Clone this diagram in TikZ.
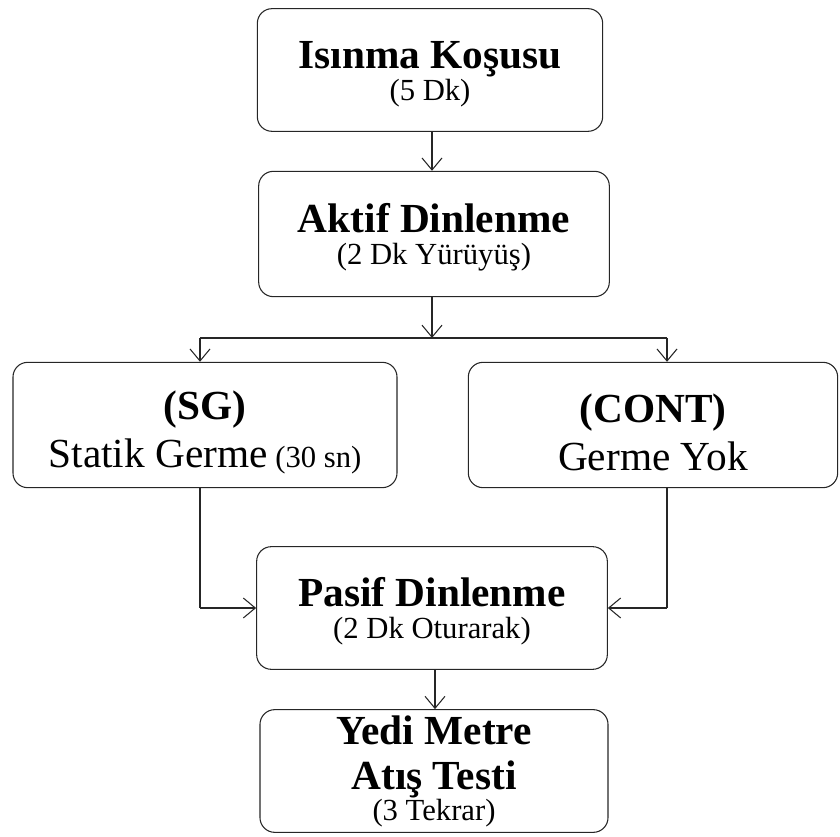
\documentclass[tikz,border=0pt]{standalone}
\usepackage{fontspec}
\setmainfont{Liberation Serif}
\usetikzlibrary{arrows.meta}

\tikzset{
  adim/.style={draw=black!85, line width=0.8pt, rounded corners=11pt, align=center, inner sep=0pt,
    font=\fontsize{23}{24}\selectfont},
  ok/.style={draw=black!85, line width=0.8pt, -{Straight Barb[length=9pt,width=15pt,line width=0.8pt]}},
  hat/.style={draw=black!85, line width=0.8pt},
}
\newcommand{\baslik}{\fontsize{31}{24}\selectfont\bfseries}
\newcommand{\alt}{\fontsize{23}{24}\selectfont}
\newcommand{\orta}{\fontsize{31}{36}\selectfont}

\begin{document}
\begin{tikzpicture}[x=0.75pt,y=0.75pt,yscale=-1,xscale=1]
\useasboundingbox (0,0) rectangle (840,837);

% Kutu: Isinma
\node[adim, minimum width=259pt, minimum height=92pt] (isinma) at (430,70)
  {\rule{0pt}{26pt}{\baslik Isınma Koşusu}\\{\alt (5 Dk)}};
% Kutu: Aktif
\node[adim, minimum width=263pt, minimum height=94pt] (aktif) at (434,234)
  {\rule{0pt}{26pt}{\baslik Aktif Dinlenme}\\{\alt (2 Dk Yürüyüş)}};
% Kutu: SG
\node[adim, minimum width=288pt, minimum height=94pt, font=\fontsize{23}{36}\selectfont] (sg) at (205,425)
  {\rule{0pt}{32pt}{\baslik (SG)}\\{\orta Statik Germe} {\alt (30 sn)}};
% Kutu: CONT
\node[adim, minimum width=277pt, minimum height=94pt, font=\fontsize{23}{36}\selectfont] (cont) at (653,425)
  {\rule{0pt}{32pt}{\baslik (CONT)}\\{\orta Germe Yok}};
% Kutu: Pasif
\node[adim, minimum width=263pt, minimum height=92pt] (pasif) at (432,608)
  {\rule{0pt}{26pt}{\baslik Pasif Dinlenme}\\{\alt (2 Dk Oturarak)}};
% Kutu: Yedi Metre
\node[adim, minimum width=261pt, minimum height=92pt, font=\fontsize{23}{23}\selectfont] (yedi) at (434,771)
  {{\baslik Yedi Metre}\\[11pt]{\baslik Atış Testi}\\{\alt (3 Tekrar)}};

% Dallanma noktalari
\coordinate (ayrim) at (432,338);
\coordinate (solu) at (200,338);
\coordinate (sagu) at (667,338);
\coordinate (solk) at (200,608);
\coordinate (sagk) at (667,608);

% Baglantilar
\draw[ok] (isinma.south -| 432,0) -- (aktif.north -| 432,0);
\draw[ok] (aktif.south -| ayrim) -- (ayrim);
\draw[hat] (solu) -- (sagu);
\draw[ok] (solu) -- (solu |- sg.north);
\draw[ok] (sagu) -- (sagu |- cont.north);
\draw[hat] (sg.south -| solk) -- (solk);
\draw[ok] (solk) -- (pasif.west);
\draw[hat] (cont.south -| sagk) -- (sagk);
\draw[ok] (sagk) -- (pasif.east);
\draw[ok] (pasif.south -| 435,0) -- (yedi.north -| 435,0);

\end{tikzpicture}
\end{document}
